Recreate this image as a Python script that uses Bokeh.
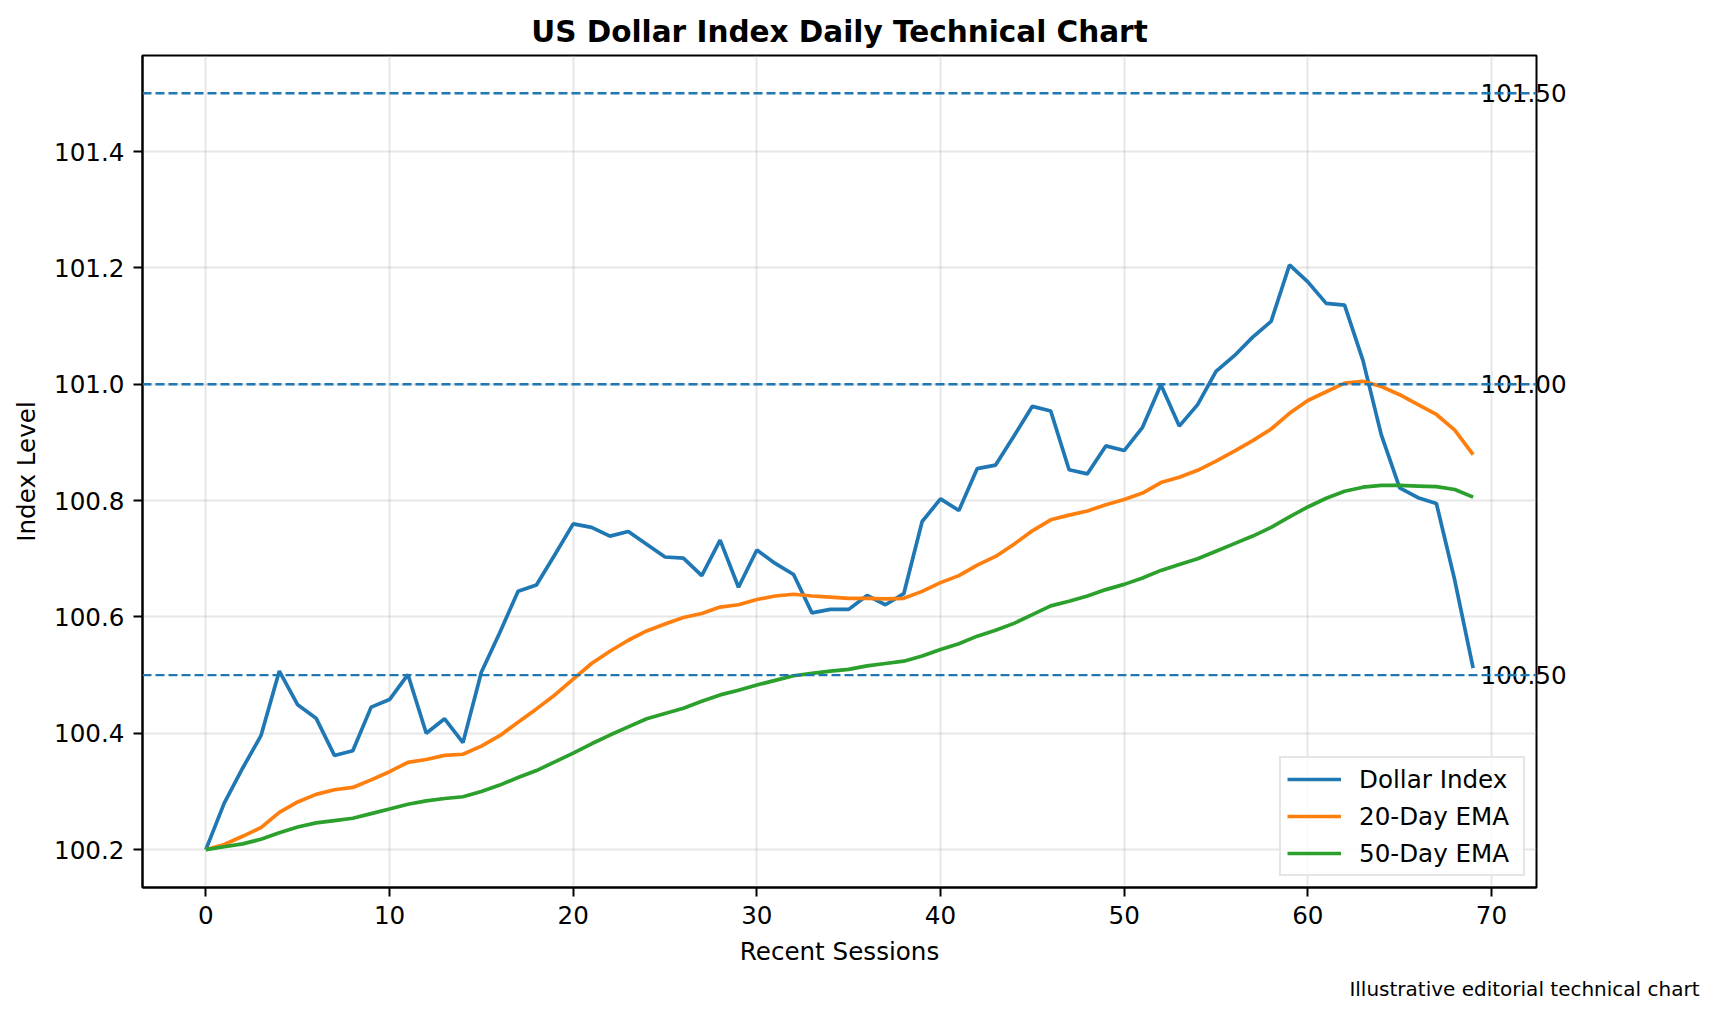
from bokeh.plotting import figure
from bokeh.models import Span, Range1d, FixedTicker, PrintfTickFormatter, LinearAxis, Title
from bokeh.embed import file_html
from bokeh.resources import INLINE

# --- datos ---
sessions = list(range(70))

dollar_index = [
    100.200, 100.280, 100.340, 100.396, 100.507, 100.449, 100.426, 100.362, 100.370, 100.445,
    100.458, 100.501, 100.400, 100.425, 100.384, 100.505, 100.573, 100.644, 100.655, 100.707,
    100.760, 100.754, 100.739, 100.747, 100.725, 100.703, 100.701, 100.671, 100.732, 100.651,
    100.715, 100.692, 100.673, 100.607, 100.613, 100.613, 100.637, 100.621, 100.640, 100.764,
    100.803, 100.783, 100.855, 100.861, 100.911, 100.962, 100.954, 100.853, 100.846, 100.894,
    100.886, 100.926, 100.999, 100.928, 100.965, 101.022, 101.049, 101.081, 101.108, 101.205,
    101.176, 101.139, 101.136, 101.041, 100.913, 100.822, 100.805, 100.795, 100.663, 100.512,
]

ema_20 = [
    100.200, 100.209, 100.223, 100.238, 100.264, 100.282, 100.295, 100.303, 100.307, 100.320,
    100.334, 100.350, 100.355, 100.362, 100.364, 100.378, 100.396, 100.419, 100.442, 100.466,
    100.493, 100.520, 100.541, 100.560, 100.576, 100.588, 100.599, 100.606, 100.617, 100.621,
    100.630, 100.636, 100.639, 100.636, 100.634, 100.632, 100.632, 100.631, 100.632, 100.644,
    100.659, 100.671, 100.689, 100.704, 100.725, 100.748, 100.767, 100.775, 100.782, 100.793,
    100.802, 100.813, 100.831, 100.840, 100.852, 100.868, 100.885, 100.903, 100.923, 100.950,
    100.972, 100.987, 101.002, 101.005, 100.996, 100.982, 100.965, 100.948, 100.921, 100.879,
]

ema_50 = [
    100.200, 100.205, 100.210, 100.218, 100.229, 100.239, 100.246, 100.250, 100.254, 100.262,
    100.270, 100.278, 100.284, 100.288, 100.291, 100.300, 100.311, 100.324, 100.336, 100.351,
    100.366, 100.382, 100.397, 100.411, 100.425, 100.434, 100.443, 100.455, 100.466, 100.474,
    100.483, 100.491, 100.499, 100.503, 100.507, 100.510, 100.516, 100.520, 100.524, 100.533,
    100.544, 100.554, 100.567, 100.577, 100.589, 100.604, 100.619, 100.627, 100.636, 100.647,
    100.656, 100.667, 100.680, 100.690, 100.700, 100.713, 100.726, 100.739, 100.754, 100.772,
    100.789, 100.804, 100.816, 100.823, 100.826, 100.826, 100.825, 100.824, 100.819, 100.806,
]

levels = [100.5, 101.0, 101.5]

x_ticks = [0, 10, 20, 30, 40, 50, 60, 70]
y_ticks = [100.2, 100.4, 100.6, 100.8, 101.0, 101.2, 101.4]

FUENTE = "DejaVu Sans"
AZUL, NARANJA, VERDE = "#1f77b4", "#ff7f0e", "#2ca02c"

# rangos con 5% de margen, como matplotlib
x_pad = (sessions[-1] - sessions[0]) * 0.05
y_min = min(dollar_index + ema_20 + ema_50 + levels)
y_max = max(dollar_index + ema_20 + ema_50 + levels)
y_pad = (y_max - y_min) * 0.05

p = figure(
    width=1716, height=1017,
    title="US Dollar Index Daily Technical Chart",
    x_axis_label="Recent Sessions", y_axis_label="Index Level",
    x_range=Range1d(sessions[0] - x_pad, sessions[-1] + x_pad),
    y_range=Range1d(y_min - y_pad, y_max + y_pad),
    output_backend="svg", toolbar_location=None,
    min_border_left=142, min_border_right=180,
    min_border_top=55, min_border_bottom=130,
)

# --- lineas ---
p.line(sessions, dollar_index, line_color=AZUL, line_width=3.7, legend_label="Dollar Index")
p.line(sessions, ema_20, line_color=NARANJA, line_width=3.7, legend_label="20-Day EMA")
p.line(sessions, ema_50, line_color=VERDE, line_width=3.7, legend_label="50-Day EMA")

# niveles horizontales
for nivel in levels:
    p.add_layout(Span(location=nivel, dimension="width", line_color=AZUL,
                      line_dash="9 4", line_width=2.4))

# --- titulo, ejes y estilo ---
p.title.text_font = FUENTE
p.title.text_font_size = "29.5px"
p.title.text_font_style = "bold"
p.title.text_color = "black"
p.title.align = "center"
p.title.standoff = 14

eje_x = p.xaxis[0]
eje_y = p.yaxis[0]
eje_x.ticker = FixedTicker(ticks=x_ticks)
eje_y.ticker = FixedTicker(ticks=y_ticks)
eje_y.formatter = PrintfTickFormatter(format="%.1f")

for eje in [eje_x, eje_y]:
    eje.axis_line_width = 2
    eje.major_tick_line_width = 2
    eje.major_tick_out = 9
    eje.major_tick_in = 0
    eje.minor_tick_out = 0
    eje.minor_tick_in = 0
    eje.major_label_text_font = FUENTE
    eje.major_label_text_font_size = "24.6px"
    eje.major_label_text_color = "black"
    eje.major_label_standoff = 9
    eje.axis_label_text_font = FUENTE
    eje.axis_label_text_font_size = "24.6px"
    eje.axis_label_text_font_style = "normal"
    eje.axis_label_text_color = "black"
    eje.axis_label_standoff = 10

# etiquetas de los niveles: un eje a la derecha sin linea, con los textos metidos hacia dentro
eje_niveles = LinearAxis(ticker=FixedTicker(ticks=levels),
                         formatter=PrintfTickFormatter(format="%.2f"))
eje_niveles.axis_line_alpha = 0
eje_niveles.major_tick_line_alpha = 0
eje_niveles.major_tick_out = 0
eje_niveles.major_tick_in = 0
eje_niveles.minor_tick_out = 0
eje_niveles.minor_tick_in = 0
eje_niveles.major_label_standoff = -56
eje_niveles.major_label_text_font = FUENTE
eje_niveles.major_label_text_font_size = "24.6px"
eje_niveles.major_label_text_color = "black"
p.add_layout(eje_niveles, "right")

# nota al pie
nota = Title(text="Illustrative editorial technical chart", align="right", offset=-163,
             text_font=FUENTE, text_font_size="20px", text_font_style="normal",
             text_color="black", standoff=12)
p.add_layout(nota, "below")

p.outline_line_color = "black"
p.outline_line_width = 2
p.outline_line_alpha = 1

p.grid.grid_line_color = "#b0b0b0"
p.grid.grid_line_alpha = 0.3
p.grid.grid_line_width = 2

p.legend.location = "bottom_right"
p.legend.margin = 11
p.legend.padding = 6
p.legend.spacing = 7
p.legend.glyph_width = 54
p.legend.glyph_height = 30
p.legend.label_standoff = 18
p.legend.label_width = 158
p.legend.label_text_font = FUENTE
p.legend.label_text_font_size = "24.6px"
p.legend.label_text_color = "black"
p.legend.border_line_color = "#cccccc"
p.legend.border_line_width = 2
p.legend.background_fill_alpha = 0.8

open("out.html", "w").write(file_html(p, INLINE))
